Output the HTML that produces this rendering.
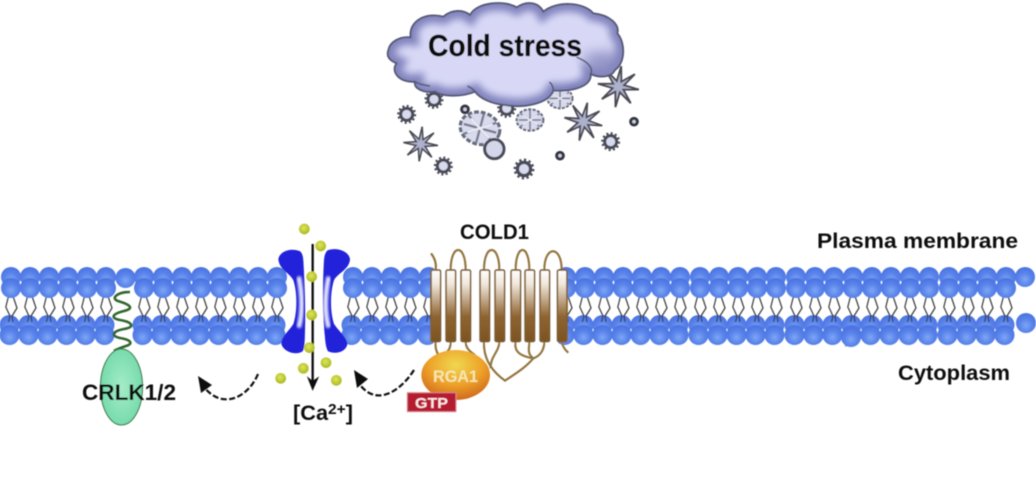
<!DOCTYPE html>
<html><head><meta charset="utf-8"><style>
html,body{margin:0;padding:0;background:#fff;width:1036px;height:494px;overflow:hidden}
svg{display:block}
text{font-family:"Liberation Sans",sans-serif;font-weight:bold;fill:#111}
</style></head><body>
<svg width="1036" height="494" viewBox="0 0 1036 494" xmlns="http://www.w3.org/2000/svg">
<defs>
<filter id="b" x="-5%" y="-5%" width="110%" height="110%"><feGaussianBlur stdDeviation="0.6"/></filter>
<filter id="b3" x="-60%" y="-30%" width="220%" height="160%"><feGaussianBlur stdDeviation="4"/></filter>
<filter id="b8" x="-30%" y="-30%" width="160%" height="160%"><feGaussianBlur stdDeviation="11"/></filter>
<filter id="b15" x="-50%" y="-50%" width="200%" height="200%"><feGaussianBlur stdDeviation="18"/></filter>
<radialGradient id="h" cx=".5" cy=".62" r=".58"><stop offset="0" stop-color="#7ea6f6"/><stop offset=".55" stop-color="#5a84ea"/><stop offset="1" stop-color="#4c74e2"/></radialGradient>
<linearGradient id="tv" x1="0" y1="0" x2="0" y2="1"><stop offset="0" stop-color="#fff"/><stop offset=".2" stop-color="#efe6da"/><stop offset=".65" stop-color="#8f6431"/><stop offset="1" stop-color="#7c5322"/></linearGradient>
<radialGradient id="rg" cx=".5" cy=".3" r=".7"><stop offset="0" stop-color="#f0d850"/><stop offset=".55" stop-color="#eea32a"/><stop offset="1" stop-color="#d06a1e"/></radialGradient>
<radialGradient id="gr" cx=".5" cy=".5" r=".6"><stop offset="0" stop-color="#a5ecc8"/><stop offset="1" stop-color="#6ed8a8"/></radialGradient>
<radialGradient id="ye" cx=".45" cy=".4" r=".6"><stop offset="0" stop-color="#dfe65a"/><stop offset="1" stop-color="#a9b821"/></radialGradient>
<path id="cp" d="M25 150C30 125 60 108 92 112C85 65 135 35 190 50C215 28 250 28 270 45C290 5 375 0 410 22C440 2 475 5 490 35C530 2 610 5 640 40C690 45 720 75 712 100C738 130 735 190 705 210C695 232 660 235 632 222C635 250 600 275 520 272C505 312 430 325 375 315C335 312 300 295 285 275C250 290 190 292 165 275C130 280 100 265 105 245C60 250 30 215 50 190C30 182 18 170 25 150Z"/>
<clipPath id="cc"><use href="#cp"/></clipPath>
<g id="tails" fill="none" stroke="#3a3a3a" stroke-width="1.2" stroke-linejoin="round">
 <path d="M-2.7 297L-5.2 307L-1 316L-2.5 322"/><path d="M2.3 297L6 308L1 316L2 322"/>
</g>
<g id="u">
 <circle cx="-1.5" cy="325" r="10" fill="url(#h)"/>
 <use href="#tails"/>
 <circle cx="-1.5" cy="335" r="10" fill="url(#h)"/>
 <circle cy="277" r="10" fill="url(#h)"/>
 <circle cy="288" r="10" fill="url(#h)"/>
</g>
<g id="gear"><circle r="18" fill="#d8daee" stroke="#4a4c58" stroke-width="9"/><circle r="25" fill="none" stroke="#4a4c58" stroke-width="7" stroke-dasharray="6 7"/></g>
<g id="ring"><circle r="10" fill="#ccd0e4" stroke="#333540" stroke-width="9"/></g>
<polygon id="star" points="1,0 .26,.11 .707,.707 .11,.26 0,1 -.11,.26 -.707,.707 -.26,.11 -1,0 -.26,-.11 -.707,-.707 -.11,-.26 0,-1 .11,-.26 .707,-.707 .26,-.11" fill="#aeb1cc" stroke="#4a4a52" stroke-width=".09"/>
<g id="flake">
 <ellipse rx="50" ry="40" fill="#d8daee" stroke="#666a7a" stroke-width="8" stroke-dasharray="12 5"/>
 <path d="M-36 -24L36 24M-36 24L36 -24M0 -36L0 36M-42 0L42 0" fill="none" stroke="#7a7d8e" stroke-width="6"/>
 <path d="M-28 -18L28 18M-28 18L28 -18" fill="none" stroke="#e8eaf6" stroke-width="6"/>
</g>
<rect id="col" width="29" height="215" rx="5" fill="url(#tv)" stroke="#80602f" stroke-width="5"/>
</defs>

<g filter="url(#b)">
<!-- Cloud -->
<g transform="translate(380,0) scale(.33333)">
 <use href="#gear" transform="translate(162,298)"/>
 <use href="#flake" transform="translate(540,295) scale(.75)"/>
 <use href="#gear" transform="translate(380,325)"/>
 <use href="#gear" transform="translate(80,343)"/>
 <use href="#ring" transform="translate(255,328)"/>
 <use href="#flake" transform="translate(450,360) scale(.8)"/>
 <use href="#flake" transform="translate(300,385) scale(1.2) rotate(15)"/>
 <use href="#star" transform="translate(610,365) scale(58) rotate(12)"/>
 <use href="#star" transform="translate(715,260) scale(62) rotate(8)"/>
 <use href="#ring" transform="translate(762,365)"/>
 <use href="#gear" transform="translate(692,425)"/>
 <use href="#star" transform="translate(122,432) scale(52) rotate(5)"/>
 <circle cx="343" cy="447" r="29" fill="#d4d6ea" stroke="#4a4c58" stroke-width="9"/>
 <use href="#ring" transform="translate(540,467)"/>
 <use href="#gear" transform="translate(190,498)"/>
 <use href="#gear" transform="translate(432,507) scale(1.1)"/>

 <use href="#cp" fill="#d8d8f6"/>
 <g clip-path="url(#cc)">
  <use href="#cp" fill="none" stroke="#8183bd" stroke-width="46" filter="url(#b8)"/>
  <path d="M600 170C650 150 700 150 745 170L720 240L625 240C645 210 625 185 600 170Z" fill="#8587bd" opacity=".8" filter="url(#b15)"/>
  <path d="M520 272C540 268 560 262 590 252L600 285L520 295Z" fill="#7f81b8" opacity=".7" filter="url(#b3)"/>
 </g>
 <use href="#cp" fill="none" stroke="#555874" stroke-width="5.5" stroke-linejoin="round"/>
 <path d="M590 172C625 185 640 205 632 222M105 245C115 252 135 256 150 258M285 275C280 268 272 262 262 258M520 272C520 262 515 252 508 246" fill="none" stroke="#555874" stroke-width="4.5"/>
</g>
<text x="428" y="56" font-size="31" textLength="154" lengthAdjust="spacingAndGlyphs" style="stroke:#111;stroke-width:.3">Cold stress</text>

<!-- Membrane -->
<g>
<use href="#u" x="11"/><use href="#u" x="30"/><use href="#u" x="49"/><use href="#u" x="68"/><use href="#u" x="87"/><use href="#u" x="106"/>
<circle cx="125.5" cy="278" r="10" fill="url(#h)"/>
<use href="#u" x="144"/><use href="#u" x="163"/><use href="#u" x="182"/><use href="#u" x="201"/><use href="#u" x="220"/><use href="#u" x="239"/><use href="#u" x="258"/><use href="#u" x="277"/>
<use href="#u" x="353"/><use href="#u" x="372"/><use href="#u" x="391"/><use href="#u" x="410"/><use href="#u" x="429"/>
<use href="#u" x="566"/><use href="#u" x="585"/><use href="#u" x="604"/><use href="#u" x="623"/><use href="#u" x="642"/><use href="#u" x="661"/><use href="#u" x="680"/><use href="#u" x="700"/><use href="#u" x="719"/><use href="#u" x="738"/><use href="#u" x="757"/><use href="#u" x="776"/><use href="#u" x="796"/><use href="#u" x="815"/><use href="#u" x="834"/><use href="#u" x="853"/><use href="#u" x="872"/><use href="#u" x="891"/><use href="#u" x="910"/><use href="#u" x="929"/><use href="#u" x="949"/><use href="#u" x="968"/><use href="#u" x="987"/><use href="#u" x="1006"/>
<circle cx="1025" cy="277" r="10" fill="url(#h)"/><circle cx="1026" cy="323" r="10" fill="url(#h)"/>
<path d="M845 346L858 343" stroke="#3c9a78" stroke-width="1.4" fill="none"/>
<circle cx="851" cy="337" r="10" fill="url(#h)"/>
</g>

<!-- CRLK -->
<path d="M130 292C118 292 110 298 118 301C128 304 136 308 124 311C112 314 110 318 120 320C132 322 136 327 124 329C113 331 110 336 120 338C132 340 133 344 126 346C120 348 117 349 114 351" fill="none" stroke="#33662f" stroke-width="2.6"/>
<ellipse cx="121.5" cy="387" rx="21" ry="38" fill="url(#gr)" stroke="#3f7a45" stroke-width="1.1"/>
<text x="82" y="400" font-size="22" textLength="94" lengthAdjust="spacingAndGlyphs">CRLK1/2</text>

<!-- Dashed arrows -->
<g fill="none" stroke="#111" stroke-width="2.2" stroke-dasharray="6 2.5">
<path d="M258 374C248 398 222 410 204 387"/>
<path d="M414 370C400 392 375 408 358 382"/>
</g>
<path d="M198 376L212 385L201 393Z" fill="#111"/>
<path d="M354 370L368 379L357 388Z" fill="#111"/>

<!-- Ca channel -->
<g transform="translate(270,240) scale(.33333,.35)">
 <path d="M25 55C30 30 65 22 90 32C100 40 100 55 101 75C104 130 107 200 105 260C104 285 105 305 98 318C80 330 45 322 35 300C30 280 55 262 70 240C82 205 82 150 70 115C60 95 28 85 25 55Z" fill="#2222da"/>
 <path d="M240 55C237 30 195 20 172 30C162 40 162 55 161 75C158 130 158 200 163 260C166 285 166 305 174 318C195 328 228 320 232 298C232 280 208 262 192 240C180 205 180 150 192 115C202 95 238 85 240 55Z" fill="#2222da"/>
 <path d="M86 105C98 160 98 210 86 250" fill="none" stroke="#eef0ff" stroke-width="13" filter="url(#b3)"/>
 <path d="M176 105C164 160 164 210 176 250" fill="none" stroke="#eef0ff" stroke-width="13" filter="url(#b3)"/>
</g>
<g transform="translate(260,220) scale(.33333)">
 <path d="M158 72L158 490" stroke="#111" stroke-width="7"/>
 <path d="M143 472L158 510L175 472L158 484Z" fill="#111" stroke="#111" stroke-width="2"/>
 <g fill="url(#ye)">
 <circle cx="133" cy="27" r="16"/><circle cx="182" cy="78" r="16"/><circle cx="155" cy="170" r="16"/><circle cx="155" cy="285" r="16"/><circle cx="148" cy="383" r="16"/><circle cx="198" cy="428" r="16"/><circle cx="130" cy="445" r="16"/><circle cx="62" cy="475" r="16"/><circle cx="229" cy="481" r="16"/>
 </g>
</g>
<text x="293" y="420" font-size="21" textLength="60" lengthAdjust="spacingAndGlyphs">[Ca<tspan font-size="15" dy="-6">2+</tspan><tspan dy="6">]</tspan></text>

<!-- COLD1 -->
<rect x="434" y="268" width="124" height="76" fill="#fff"/>
<g transform="translate(260,220) scale(.33333)">
 <g fill="none" stroke="#93763f" stroke-width="6.5">
  <path d="M513 100C525 115 530 130 527 150"/>
  <path d="M572 150C572 70 617 70 617 150"/>
  <path d="M672 150C672 70 718 70 718 150"/>
  <path d="M767 150C767 70 808 70 808 150"/>
  <path d="M853 150C853 75 905 75 905 150"/>
  <path d="M527 365C525 385 530 395 535 405"/>
  <path d="M572 365C572 385 565 395 550 405"/>
  <path d="M617 365C617 385 630 395 645 405"/>
  <path d="M672 365C670 410 690 450 735 482C760 465 795 445 820 415C800 400 808 385 808 365"/>
  <path d="M718 365C718 395 690 410 692 445"/>
  <path d="M767 365C760 400 790 410 820 415"/>
  <path d="M853 365C853 395 835 410 820 415"/>
  <path d="M905 365C908 380 915 390 925 398"/>
 </g>
 <use href="#col" x="513" y="150"/><use href="#col" x="558" y="150"/><use href="#col" x="603" y="150"/><use href="#col" x="660" y="150"/><use href="#col" x="705" y="150"/><use href="#col" x="753" y="150"/><use href="#col" x="795" y="150"/><use href="#col" x="840" y="150"/><use href="#col" x="892" y="150"/>
 <ellipse cx="587" cy="465" rx="103" ry="75" fill="url(#rg)"/>
 <rect x="442" y="518" width="146" height="57" fill="#b51a30" stroke="#d98a90" stroke-width="3"/>
</g>
<text x="433" y="382" font-size="17" textLength="45" lengthAdjust="spacingAndGlyphs" style="fill:#f6e6ae">RGA1</text>
<text x="415" y="408" font-size="15" textLength="33" lengthAdjust="spacingAndGlyphs" style="fill:#fbe9e9">GTP</text>
<text x="460" y="239" font-size="21" textLength="69" lengthAdjust="spacingAndGlyphs">COLD1</text>
<text x="817" y="248" font-size="21" textLength="201" lengthAdjust="spacingAndGlyphs">Plasma membrane</text>
<text x="898" y="380" font-size="21" textLength="112" lengthAdjust="spacingAndGlyphs">Cytoplasm</text>
</g>
</svg>
</body></html>
